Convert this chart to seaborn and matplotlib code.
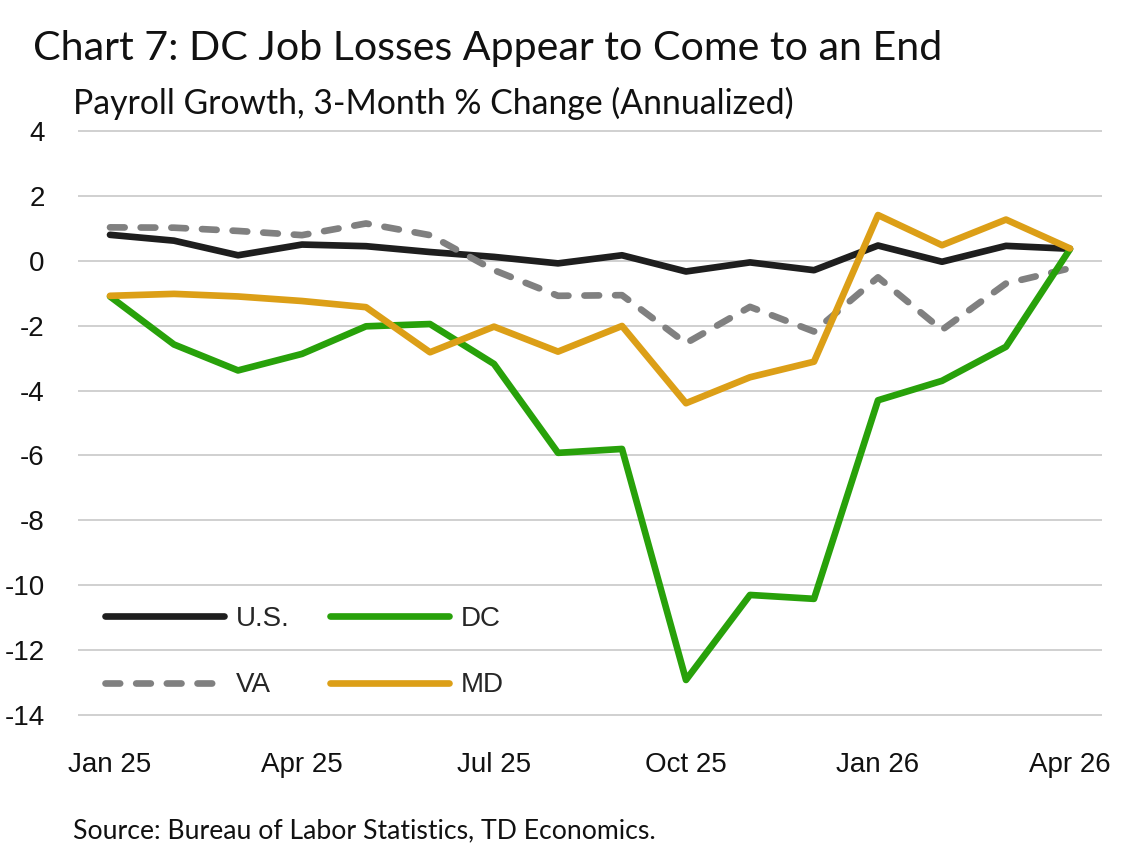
import matplotlib
matplotlib.use("Agg")
import matplotlib.pyplot as plt
import seaborn as sns
import numpy as np

# ---- data ----
months = ["Jan 25", "Feb 25", "Mar 25", "Apr 25", "May 25", "Jun 25", "Jul 25", "Aug 25",
          "Sep 25", "Oct 25", "Nov 25", "Dec 25", "Jan 26", "Feb 26", "Mar 26", "Apr 26"]
us = [0.80, 0.62, 0.17, 0.50, 0.45, 0.27, 0.12, -0.08, 0.17, -0.33, -0.05, -0.29, 0.47, -0.03, 0.46, 0.37]
va = [1.03, 1.02, 0.92, 0.79, 1.15, 0.79, -0.29, -1.08, -1.06, -2.54, -1.42, -2.18, -0.51, -2.13, -0.70, -0.23]
dc = [-1.10, -2.58, -3.38, -2.87, -2.02, -1.95, -3.18, -5.92, -5.80, -12.92, -10.30, -10.42, -4.30, -3.70, -2.65, 0.36]
md = [-1.08, -1.02, -1.10, -1.24, -1.43, -2.82, -2.03, -2.80, -2.01, -4.39, -3.59, -3.11, 1.41, 0.48, 1.27, 0.38]
series_names = ["U.S.", "VA", "DC", "MD"]
xtick_labels = ["Jan 25", "Apr 25", "Jul 25", "Oct 25", "Jan 26", "Apr 26"]
ytick_values = [4, 2, 0, -2, -4, -6, -8, -10, -12, -14]

title = "Chart 7: DC Job Losses Appear to Come to an End"
subtitle = "Payroll Growth, 3-Month % Change (Annualized)"
source = "Source: Bureau of Labor Statistics, TD Economics."

colors = {"U.S.": "#1e1e1e", "VA": "#808080", "DC": "#28a10a", "MD": "#dc9f17"}

sns.set_theme(style="white")
plt.rcParams['font.family'] = ['Liberation Sans', 'DejaVu Sans']

W, H = 1140, 851
fig = plt.figure(figsize=(W / 100, H / 100), dpi=100)

ppu = 584 / 18.0
ylo, yhi = -14.1, 4.1
top_px = 131 - (yhi - 4) * ppu
bot_px = 715 + (-14 - ylo) * ppu
ax = fig.add_axes([78 / W, 1 - bot_px / H, (1102 - 78) / W, (bot_px - top_px) / H])

idx = np.arange(len(months))
data = {"U.S.": us, "VA": va, "DC": dc, "MD": md}
lw = 4.8
for i, name in enumerate(series_names):
    kw = {}
    if name == "VA":
        kw["linestyle"] = (0, (2.2, 2.4))
    sns.lineplot(x=idx, y=data[name], ax=ax, color=colors[name], linewidth=lw,
                 label=name, zorder=3 + i, **kw)

for line in ax.get_lines():
    line.set_solid_capstyle('round')
    line.set_dash_capstyle('round')
    line.set_solid_joinstyle('round')

ax.set_xlim(-0.5, 15.5)
ax.set_ylim(ylo, yhi)
ax.set_xticks([months.index(m) for m in xtick_labels])
ax.set_xticklabels(xtick_labels)
ax.set_yticks(ytick_values)
ax.set_yticklabels([str(v) for v in ytick_values])
ax.set_xlabel("")
ax.set_ylabel("")
for s in ax.spines.values():
    s.set_visible(False)
ax.yaxis.grid(True, color="#c8c8c8", linewidth=1.2)
ax.xaxis.grid(False)
ax.set_axisbelow(True)
ax.tick_params(axis='y', length=0, pad=24, labelsize=20, labelcolor="#111111")
ax.tick_params(axis='x', length=0, pad=24, labelsize=20, labelcolor="#111111")

handles, labels = ax.get_legend_handles_labels()
order = [labels.index(n) for n in ["U.S.", "VA", "DC", "MD"]]
leg = ax.legend([handles[i] for i in order], [labels[i] for i in order], ncol=2,
                loc='upper left', bbox_to_anchor=(0.026, 0.19), frameon=False,
                handlelength=4.3, handletextpad=0.43, columnspacing=1.44,
                labelspacing=1.45, borderpad=0, borderaxespad=0, fontsize=20)
for h in leg.get_lines():
    h.set_solid_capstyle('round')
    h.set_dash_capstyle('round')
    h.set_linewidth(lw)

fig.text(33 / W, 1 - 60 / H, title, fontsize=29.6, family=['Lato', 'DejaVu Sans'],
         va='baseline', ha='left', color="#111111")
fig.text(73 / W, 1 - 114 / H, subtitle, fontsize=24.3, family=['Lato', 'DejaVu Sans'],
         va='baseline', ha='left', color="#111111")
fig.text(73 / W, 1 - 838 / H, source, fontsize=19.2, family=['Lato', 'DejaVu Sans'],
         va='baseline', ha='left', color="#111111")

fig.savefig("out.png", dpi=100)
